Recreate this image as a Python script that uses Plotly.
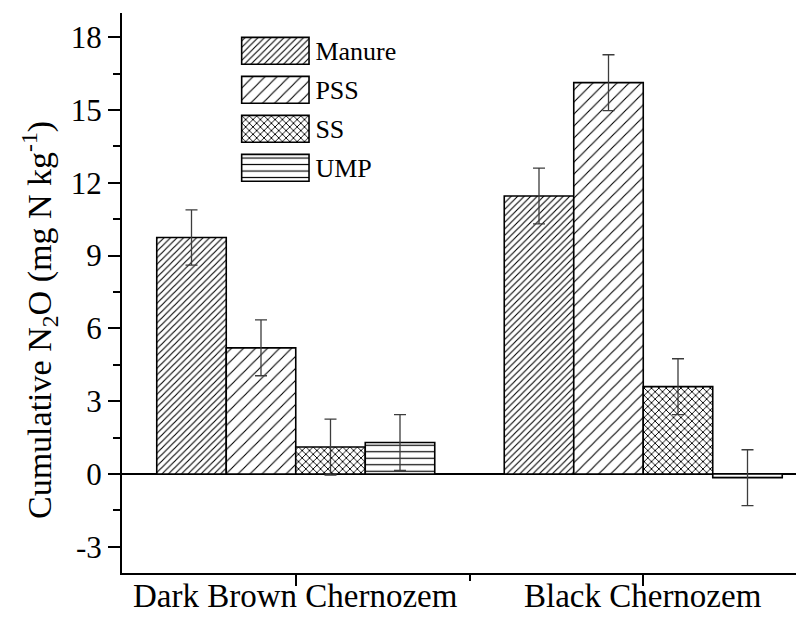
import plotly.graph_objects as go

# ---- data ----
categories = ["Dark Brown Chernozem", "Black Chernozem"]
series = ["Manure", "PSS", "SS", "UMP"]
manure = [9.75, 11.46]
manure_err = [1.14, 1.15]
pss = [5.20, 16.13]
pss_err = [1.15, 1.15]
ss = [1.11, 3.60]
ss_err = [1.15, 1.15]
ump = [1.30, -0.15]
ump_err = [1.15, 1.15]
y_ticks = [-3, 0, 3, 6, 9, 12, 15, 18]
y_tick_labels = ["-3", "0", "3", "6", "9", "12", "15", "18"]

values = [manure, pss, ss, ump]
errors = [manure_err, pss_err, ss_err, ump_err]

# ---- styles ----
FONT = "Liberation Serif"
pat_shape = ["/", "/", "x", "-"]
pat_size = [4.6, 8.5, 5.2, 6.5]
pat_solid = [0.24, 0.13, 0.32, 0.18]

x_pos = list(range(len(categories)))

fig = go.Figure()
for i, name in enumerate(series):
    fig.add_trace(go.Bar(
        x=x_pos, y=values[i], name=name,
        marker=dict(color="white",
                    line=dict(color="black", width=1.6),
                    pattern=dict(shape=pat_shape[i], size=pat_size[i],
                                 solidity=pat_solid[i], fgcolor="black",
                                 bgcolor="white", fillmode="replace")),
        error_y=dict(type="data", array=errors[i], visible=True,
                     color="#3c3c3c", thickness=1.3, width=6),
        showlegend=False,
    ))

# custom legend drawn as bars on a small auxiliary subplot
fig.add_trace(go.Bar(
    x=[1] * len(series), y=series, orientation="h", base=0, width=0.69,
    xaxis="x2", yaxis="y2",
    marker=dict(color="white",
                line=dict(color="black", width=1.6),
                pattern=dict(shape=pat_shape, size=pat_size,
                             solidity=pat_solid, fgcolor="black",
                             bgcolor="white", fillmode="replace")),
    showlegend=False, hoverinfo="skip",
))

# the page body has an 8px margin, so the figure is placed at (8, 8)
OFF = 8
W, H = 804 - OFF, 617 - OFF
PL, PR, PT, PB = 122, 804, 13, 573        # plot area in window pixels
L, R, T, B = PL - OFF, 0, PT - OFF, H - (PB - OFF)
pw, ph = PR - PL, PB - PT

def fx(px):
    return (px - PL) / pw

def fy(py):
    return (PB - py) / ph

annotations = [dict(
    text="Cumulative N<sub>2</sub>O (mg N kg<sup>-1</sup>)",
    xref="paper", yref="paper", x=fx(39), y=fy(320),
    xanchor="center", yanchor="middle", textangle=-90,
    showarrow=False, font=dict(family=FONT, size=34, color="black"),
)]
for xp, cat in zip(x_pos, categories):
    annotations.append(dict(
        text=cat, xref="x", yref="paper", x=xp, y=fy(616),
        xanchor="center", yanchor="bottom", showarrow=False,
        font=dict(family=FONT, size=33, color="black"),
    ))

fig.update_layout(
    width=W, height=H,
    margin=dict(l=L, r=R, t=T, b=B),
    paper_bgcolor="white", plot_bgcolor="white",
    barmode="group", bargap=0.2, bargroupgap=0,
    font=dict(family=FONT, color="black", size=30),
    xaxis=dict(
        range=[-0.5, 1.4626], tickmode="array", tickvals=x_pos,
        showticklabels=False, ticks="outside", ticklen=11, tickwidth=2,
        tickcolor="black", showline=True, linecolor="black", linewidth=2,
        showgrid=False, zeroline=False, automargin=False,
        minor=dict(tickvals=[0.5], ticks="outside", ticklen=6,
                   tickwidth=2, tickcolor="black"),
        domain=[0, 1],
    ),
    yaxis=dict(
        range=[-4.08, 19.0], tickmode="array", tickvals=y_ticks,
        ticktext=y_tick_labels,
        ticks="outside", ticklen=12, tickwidth=2, tickcolor="black",
        showline=True, linecolor="black", linewidth=2,
        showgrid=False, zeroline=True, zerolinecolor="black",
        zerolinewidth=2, automargin=False,
        tickfont=dict(family=FONT, size=31, color="black"),
        minor=dict(dtick=1.5, tick0=0, ticks="outside", ticklen=7,
                   tickwidth=2, tickcolor="black"),
    ),
    xaxis2=dict(domain=[fx(238.3), fx(312.4)], range=[-0.05, 1.05],
                anchor="y2", showgrid=False, zeroline=False,
                showline=False, showticklabels=False, ticks=""),
    yaxis2=dict(domain=[fy(187.3), fy(31.3)], anchor="x2", side="right",
                type="category", categoryorder="array",
                categoryarray=series, range=[3.5, -0.5],
                showgrid=False, zeroline=False, showline=False, ticks="",
                ticklabelstandoff=2,
                tickfont=dict(family=FONT, size=26, color="black")),
    annotations=annotations,
)

fig.write_html("out.html")
